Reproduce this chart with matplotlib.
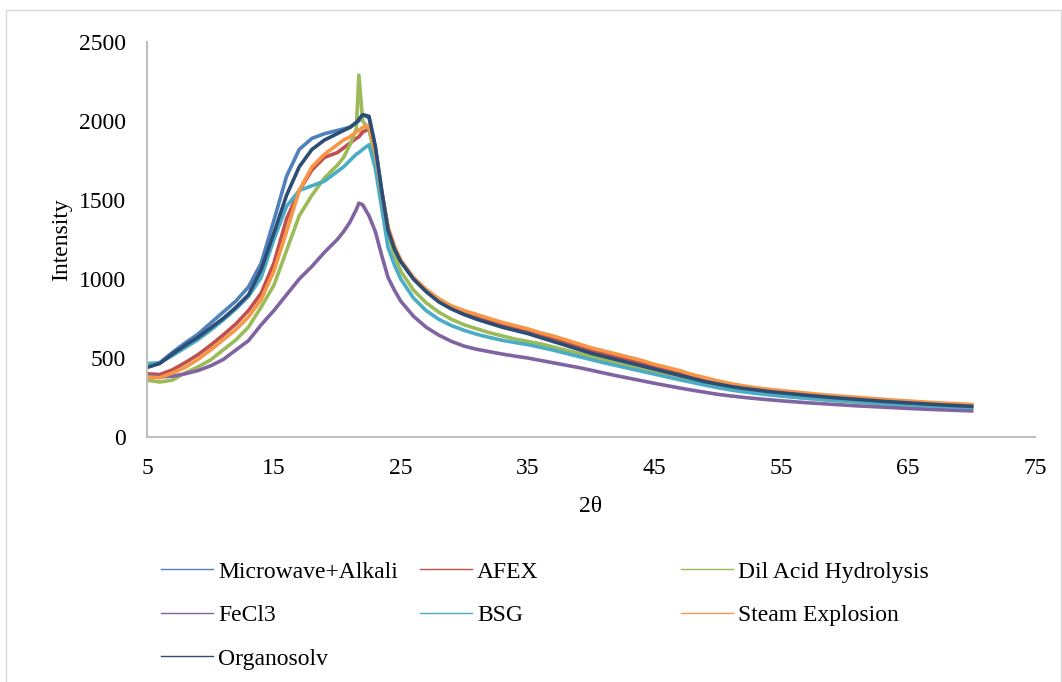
import matplotlib
matplotlib.use("Agg")
import matplotlib.pyplot as plt
from matplotlib.lines import Line2D
from matplotlib.patches import Rectangle

two_theta = [5, 6, 7, 8, 9, 10, 11, 12, 13, 14, 15, 16, 17, 18, 19, 20,
             20.5, 21, 21.5, 21.7, 22, 22.5, 23, 23.5, 24, 24.5,
             25, 26, 27, 28, 29, 30, 31, 32, 33, 34, 35, 36, 37, 38, 39,
             40, 41, 42, 43, 44, 45, 46, 47, 48, 49, 50, 51, 52, 53, 54,
             55, 56, 57, 58, 59, 60, 61, 62, 63, 64, 65, 66, 67, 68, 69, 70]

microwave_alkali = [450, 470, 535, 595, 650, 720, 790, 860, 950, 1100, 1370, 1650, 1820, 1890, 1920, 1940,
                    1950, 1960, 1990, 2000, 2040, 2020, 1830, 1560, 1320, 1190,
                    1115, 1005, 925, 860, 815, 780, 750, 725, 700, 680, 660, 635, 610, 585, 560,
                    535, 515, 495, 475, 455, 435, 415, 395, 375, 355, 340, 325, 312, 302, 292,
                    283, 275, 267, 260, 253, 247, 241, 235, 229, 224, 219, 214, 209, 205, 201, 197]
afex = [400, 395, 425, 470, 520, 580, 645, 715, 800, 910, 1100, 1380, 1560, 1690, 1770, 1800,
        1830, 1860, 1890, 1900, 1930, 1950, 1800, 1540, 1320, 1200,
        1115, 1005, 928, 865, 820, 788, 760, 735, 710, 690, 670, 645, 622, 598, 573,
        548, 528, 508, 488, 468, 445, 425, 405, 383, 363, 345, 329, 316, 305, 295,
        287, 279, 271, 264, 257, 251, 245, 239, 233, 227, 222, 217, 213, 209, 205, 201]
dil_acid = [360, 348, 360, 405, 443, 487, 551, 614, 696, 823, 960, 1180, 1400, 1530, 1640, 1720,
            1770, 1850, 1950, 2290, 2000, 1950, 1760, 1500, 1290, 1150,
            1050, 930, 850, 790, 745, 710, 685, 660, 640, 620, 605, 590, 570, 550, 530,
            510, 490, 470, 450, 430, 410, 392, 374, 356, 339, 323, 308, 295, 283, 272,
            262, 253, 245, 238, 232, 226, 220, 214, 209, 204, 199, 195, 191, 187, 184, 181]
fecl3 = [390, 380, 385, 400, 420, 450, 490, 550, 610, 710, 800, 900, 1000, 1080, 1170, 1250,
         1300, 1360, 1440, 1480, 1470, 1400, 1300, 1150, 1010, 930,
         860, 765, 695, 645, 605, 575, 555, 540, 525, 512, 500, 485, 470, 455, 440,
         423, 405, 388, 372, 356, 340, 325, 310, 296, 283, 270, 260, 251, 243, 236,
         229, 223, 217, 212, 207, 202, 197, 193, 189, 185, 181, 177, 174, 171, 168, 165]
bsg = [465, 470, 515, 565, 615, 675, 740, 810, 890, 1010, 1250, 1460, 1560, 1590, 1620, 1680,
       1710, 1750, 1790, 1800, 1820, 1850, 1700, 1450, 1200, 1090,
       1000, 880, 800, 745, 705, 675, 650, 630, 612, 598, 585, 568, 550, 530, 510,
       490, 470, 452, 434, 416, 398, 380, 362, 345, 328, 312, 298, 286, 276, 267,
       259, 252, 245, 239, 233, 228, 223, 218, 213, 208, 204, 200, 196, 192, 189, 186]
steam_explosion = [380, 375, 405, 440, 490, 550, 615, 680, 760, 870, 1050, 1300, 1560, 1710, 1790, 1850,
                   1880, 1900, 1930, 1940, 1960, 1970, 1800, 1550, 1330, 1210,
                   1120, 1010, 935, 875, 830, 800, 775, 750, 725, 705, 685, 660, 640, 615, 590,
                   565, 545, 525, 505, 485, 460, 440, 420, 395, 375, 355, 338, 324, 312, 302,
                   294, 286, 278, 270, 263, 257, 251, 245, 239, 233, 228, 223, 218, 214, 210, 206]
organosolv = [440, 465, 525, 580, 630, 690, 750, 820, 900, 1060, 1290, 1530, 1710, 1820, 1880, 1920,
              1940, 1960, 1990, 2010, 2040, 2030, 1840, 1560, 1310, 1190,
              1110, 1000, 920, 855, 810, 775, 745, 720, 695, 675, 655, 630, 605, 580, 555,
              530, 510, 490, 470, 450, 430, 410, 390, 370, 350, 335, 320, 308, 298, 288,
              280, 272, 264, 257, 250, 244, 238, 232, 226, 221, 216, 211, 206, 202, 198, 194]

labels = ['Microwave+Alkali', 'AFEX', 'Dil Acid Hydrolysis', 'FeCl3', 'BSG',
          'Steam Explosion', 'Organosolv']
series = [microwave_alkali, afex, dil_acid, fecl3, bsg, steam_explosion, organosolv]
colors = ['#4F81BD', '#C0504D', '#9BBB59', '#8064A2', '#4BACC6', '#F79646', '#2C4D75']

plt.rcParams['font.family'] = ['Liberation Serif', 'DejaVu Serif']
plt.rcParams['font.size'] = 17

W, H = 1062, 682
fig = plt.figure(figsize=(W / 100, H / 100), dpi=100)
ax = fig.add_axes([147 / W, 1 - 437 / H, (1035 - 147) / W, (437 - 42) / H])

for vals, c in zip(series, colors):
    ax.plot(two_theta, vals, color=c, linewidth=2.6, solid_joinstyle='round')

ax.set_xlim(5, 75)
ax.set_ylim(0, 2500)
ax.set_xticks(range(5, 76, 10))
ax.set_yticks(range(0, 2501, 500))
ax.tick_params(length=0, labelsize=17)
ax.tick_params(axis='y', pad=15)
ax.tick_params(axis='x', pad=15)
for s in ['top', 'right']:
    ax.spines[s].set_visible(False)
for s in ['left', 'bottom']:
    ax.spines[s].set_color('#BFBFBF')
    ax.spines[s].set_linewidth(1.5)

ax.set_ylabel('Intensity', fontsize=17, labelpad=5)
ax.set_xlabel('2θ', fontsize=17, labelpad=12)

# legend drawn column by column to keep Excel's row-wise layout
col_x = [161, 420, 681]
cols = [[0, 3, 6], [1, 4], [2, 5]]
for x0, idx in zip(col_x, cols):
    handles = [Line2D([], [], color=colors[i], lw=1.0) for i in idx]
    fig.legend(handles, [labels[i] for i in idx], loc='upper left',
               bbox_to_anchor=(x0 / W, 1 - 561 / H), frameon=False,
               borderpad=0, borderaxespad=0, handlelength=2.2,
               handletextpad=0.22, labelspacing=0.93, fontsize=17)

fig.patches.append(Rectangle((6 / W, -0.01), (W - 7) / W, (H - 10) / H + 0.01,
                             transform=fig.transFigure, fill=False,
                             edgecolor='#D9D9D9', linewidth=1))

fig.savefig('out.png', dpi=100, facecolor='white')
